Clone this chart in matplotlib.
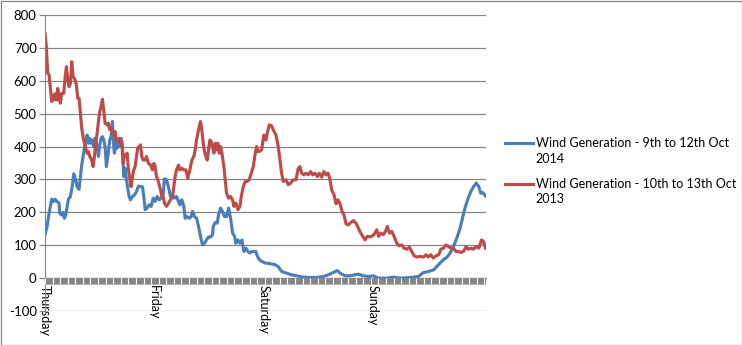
import matplotlib
matplotlib.use("Agg")
import matplotlib.pyplot as plt
from matplotlib.legend_handler import HandlerLine2D
import numpy as np

# hours from midnight Thursday -> wind generation (MW)
blue_hours = [0.00, 0.45, 0.89, 1.18, 1.48, 1.92, 2.21, 2.65, 3.09, 3.24, 3.68, 3.97, 4.26, 4.56,
              5.15, 5.59, 6.03, 6.32, 6.76, 7.05, 7.49, 7.79, 8.08, 8.37, 8.67, 8.96, 9.26, 9.55,
              9.84, 10.14, 10.43, 10.72, 11.02, 11.31, 11.75, 12.04, 12.34, 12.63, 12.92, 13.22,
              13.51, 13.95, 14.25, 14.54, 14.83, 15.13, 15.27, 15.57, 15.86, 16.15, 16.45, 16.74,
              17.03, 17.33, 17.62, 17.92, 18.21, 18.50, 18.80, 19.24, 19.68, 20.12, 20.56, 21.00,
              21.44, 21.73, 22.03, 22.47, 22.91, 23.35, 23.79, 24.23, 24.67, 25.11, 25.55, 26.00,
              26.28, 26.72, 27.16, 27.60, 28.05, 28.49, 28.93, 29.37, 29.66, 30.10, 30.54, 30.83,
              31.27, 31.71, 32.16, 32.45, 32.89, 33.33, 33.77, 34.21, 34.65, 35.09, 35.53, 35.97,
              36.41, 36.85, 37.00, 37.44, 37.88, 38.17, 38.61, 39.05, 39.49, 39.93, 40.38, 40.82,
              41.26, 41.70, 41.99, 42.43, 42.87, 43.31, 43.75, 44.19, 44.63, 45.07, 45.51, 45.95,
              46.39, 46.68, 47.13, 47.42, 48.37, 49.47, 50.58, 51.31, 52.04, 53.15, 54.25, 55.35,
              56.81, 58.28, 59.75, 61.22, 62.32, 63.42, 64.30, 64.89, 65.99, 67.09, 68.19, 68.93,
              70.03, 71.13, 72.23, 73.33, 75.16, 76.63, 78.10, 79.57, 81.04, 82.14, 83.24, 84.34,
              85.44, 86.17, 86.91, 87.64, 88.38, 89.11, 89.85, 90.58, 91.31, 91.90, 92.49, 93.07,
              93.66, 94.25, 94.83, 95.42, 95.86, 96.30, 96.89]
blue_mw = [132, 157, 197, 218, 240, 233, 240, 233, 228, 197, 192, 200, 182, 192,
           240, 248, 283, 317, 299, 278, 270, 309, 344, 370, 395, 410, 435, 410,
           425, 410, 420, 400, 425, 410, 370, 405, 425, 430, 420, 400,
           339, 385, 420, 430, 476, 400, 380, 410, 395, 420, 400, 425,
           400, 309, 334, 299, 273, 248, 238, 248, 253, 263, 280, 278,
           278, 248, 208, 213, 223, 218, 243, 233, 248, 238, 243, 255,
           302, 299, 278, 248, 253, 243, 248, 233, 223, 238, 218, 182,
           187, 182, 187, 203, 187, 182, 157, 127, 101, 106, 116, 125,
           125, 132, 157, 169, 167, 192, 213, 203, 187, 187, 213, 182,
           137, 127, 106, 116, 106, 116, 81, 91, 81, 76, 81, 81,
           81, 68, 56, 53, 46, 44, 41, 35, 20, 15, 10, 7,
           3, 2, 2, 5, 10, 17, 23, 15, 7, 7, 10, 12,
           7, 5, 7, 0, 0, 3, 0, 1, 3, 5, 17, 20,
           25, 35, 46, 56, 63, 76, 96, 122, 152, 187, 218, 243,
           263, 278, 289, 278, 258, 260, 250]

red_hours = [0.00, 0.30, 0.59, 0.89, 1.18, 1.48, 1.77, 2.06, 2.36, 2.65, 2.80, 3.09, 3.38, 3.68,
             4.12, 4.41, 4.71, 5.00, 5.29, 5.59, 5.88, 6.17, 6.61, 6.91, 7.20, 7.49, 7.79, 8.08,
             8.37, 8.67, 8.96, 9.26, 9.55, 9.84, 10.28, 10.58, 10.87, 11.16, 11.46, 11.75, 12.04,
             12.34, 12.63, 12.92, 13.22, 13.66, 13.95, 14.25, 14.54, 14.83, 15.13, 15.42, 15.71,
             16.01, 16.30, 16.60, 16.89, 17.18, 17.48, 17.77, 18.06, 18.36, 18.65, 18.94, 19.24,
             19.53, 19.82, 20.12, 20.41, 20.71, 21.00, 21.29, 21.59, 22.03, 22.32, 22.76, 23.20,
             23.64, 23.94, 24.23, 24.52, 24.82, 25.11, 25.40, 25.70, 25.99, 26.28, 26.72, 27.16,
             27.60, 28.05, 28.34, 28.63, 28.93, 29.37, 29.66, 30.10, 30.54, 30.98, 31.42, 31.86,
             32.30, 32.74, 33.04, 33.33, 33.62, 33.92, 34.21, 34.50, 34.80, 35.09, 35.38, 35.68,
             35.97, 36.26, 36.56, 36.85, 37.15, 37.44, 37.73, 38.03, 38.32, 38.61, 38.91, 39.35,
             39.64, 39.93, 40.38, 40.82, 41.26, 41.55, 41.99, 42.43, 42.87, 43.17, 43.61, 44.05,
             44.49, 44.93, 45.37, 45.81, 46.25, 46.54, 46.84, 47.13, 47.64, 48.15, 48.59, 48.89,
             49.33, 49.84, 50.21, 50.80, 51.31, 51.68, 52.04, 52.41, 52.99, 53.51, 54.03, 54.61,
             55.20, 55.71, 56.08, 56.45, 56.96, 57.40, 57.92, 58.43, 58.87, 59.38, 59.90, 60.34,
             60.85, 61.36, 61.81, 62.25, 62.69, 63.05, 63.57, 64.01, 64.45, 64.89, 65.33, 65.77,
             66.21, 66.72, 67.24, 67.83, 68.41, 68.93, 69.44, 69.88, 70.39, 70.90, 71.49, 72.08,
             72.60, 72.96, 73.40, 73.84, 74.43, 74.87, 75.31, 75.75, 76.27, 76.78, 77.37, 77.95,
             78.47, 78.98, 79.57, 80.16, 80.67, 81.18, 81.77, 82.50, 83.24, 83.82, 84.34, 84.85,
             85.44, 86.03, 86.61, 87.05, 87.64, 88.23, 88.74, 89.26, 89.84, 90.43, 90.94, 91.46,
             92.05, 92.63, 93.07, 93.66, 94.25, 94.83, 95.42, 96.01, 96.45, 96.89]
red_mw = [744, 704, 623, 618, 577, 537, 557, 542, 562, 542, 577, 552, 532, 562,
          562, 608, 643, 603, 582, 592, 658, 613, 603, 587, 547, 547, 501, 456,
          430, 410, 395, 380, 385, 370, 359, 339, 370, 410, 440, 476, 506,
          522, 544, 511, 471, 466, 471, 451, 456, 440, 435, 446, 415,
          420, 425, 410, 415, 349, 375, 370, 380, 329, 304, 278, 309,
          329, 339, 370, 395, 400, 405, 370, 359, 359, 370, 349, 344,
          329, 349, 339, 309, 299, 284, 268, 248, 248, 228, 218, 228,
          238, 248, 278, 309, 329, 344, 329, 334, 329, 329, 304, 329,
          359, 370, 390, 420, 440, 461, 476, 451, 410, 385, 370, 359,
          390, 420, 415, 400, 380, 410, 390, 410, 380, 400, 380, 339,
          299, 258, 243, 248, 238, 218, 228, 208, 218, 248, 278, 294,
          294, 299, 319, 339, 380, 400, 385, 385, 390, 435, 420, 440,
          466, 463, 451, 435, 400, 359, 319, 294, 299, 284, 289, 299,
          299, 334, 339, 319, 314, 319, 314, 324, 314, 319, 309, 319,
          307, 324, 314, 319, 299, 268, 253, 226, 238, 226, 203, 192,
          165, 162, 169, 175, 167, 152, 137, 127, 116, 127, 125, 129,
          137, 147, 127, 137, 132, 142, 157, 137, 142, 127, 106, 98,
          101, 91, 88, 94, 81, 68, 64, 66, 64, 71, 64, 71,
          61, 68, 71, 88, 91, 101, 96, 91, 91, 81, 81, 78,
          81, 96, 88, 91, 88, 96, 91, 116, 111, 91]

series_labels = ["Wind Generation - 9th to 12th Oct\n2014",
                 "Wind Generation - 10th to 13th Oct\n2013"]
day_names = ["Thursday", "Friday", "Saturday", "Sunday"]
day_hours = [0, 24, 48, 72]

plt.rcParams['font.family'] = ['Lato', 'DejaVu Sans']
plt.rcParams['axes.unicode_minus'] = False
grey = '#868686'


class FirstLineHandler(HandlerLine2D):
    # put the legend line level with the first row of a two-line label
    def create_artists(self, legend, orig_handle, xdescent, ydescent,
                       width, height, fontsize, trans):
        artists = super().create_artists(legend, orig_handle, xdescent, ydescent,
                                         width, height, fontsize, trans)
        for a in artists:
            a.set_ydata(np.asarray(a.get_ydata()) + 0.65 * fontsize)
        return artists


fig = plt.figure(figsize=(7.42, 3.45), dpi=100)
ax = fig.add_axes([45 / 742, 34 / 345, 441 / 742, 296 / 345])

ax.plot(blue_hours, blue_mw, color='#4A7EBB', lw=2.25, label=series_labels[0])
ax.plot(red_hours, red_mw, color='#BE4B48', lw=2.25, label=series_labels[1])

ax.set_ylim(-100, 800)
ax.set_yticks(np.arange(-100, 801, 100))
ax.yaxis.grid(True, color=grey, lw=0.9)
ax.set_axisbelow(True)
ax.tick_params(axis='y', length=4, width=0.9, color=grey, pad=2, labelsize=9.5)

ax.set_xlim(0, 97)
ax.set_xticks(day_hours, day_names)
ax.set_xticks(np.arange(0, 97, 1 / 6), minor=True)
ax.tick_params(axis='x', which='both', length=4, width=0.9, color=grey,
               labelsize=9, pad=1, labelrotation=270)

for side in ['top', 'right']:
    ax.spines[side].set_visible(False)
ax.spines['left'].set_color(grey)
ax.spines['bottom'].set_color(grey)
ax.spines['bottom'].set_position(('data', 0))

# light breaks in the dense tick band every 100 minutes
sec = ax.secondary_xaxis(1 / 9)
sec.set_xticks(np.arange(0, 97, 100 / 60))
sec.tick_params(length=4, width=0.8, color='white', labelbottom=False)
sec.spines['bottom'].set_visible(False)
sec.set_zorder(3)

leg = fig.legend(handler_map={plt.Line2D: FirstLineHandler()},
                 loc='upper left', bbox_to_anchor=(505 / 742, 1 - 137 / 345),
                 frameon=False, fontsize=9, handlelength=2.2, handletextpad=0.25,
                 labelspacing=1.05, borderpad=0, borderaxespad=0)
for t in leg.get_texts():
    t.set_linespacing(1.35)

fig.add_artist(plt.Rectangle((0.5 / 742, 0.5 / 345), 1 - 1 / 742, 1 - 1 / 345,
                             transform=fig.transFigure, fill=False,
                             edgecolor=grey, lw=0.9))

fig.savefig("out.png", dpi=100)
